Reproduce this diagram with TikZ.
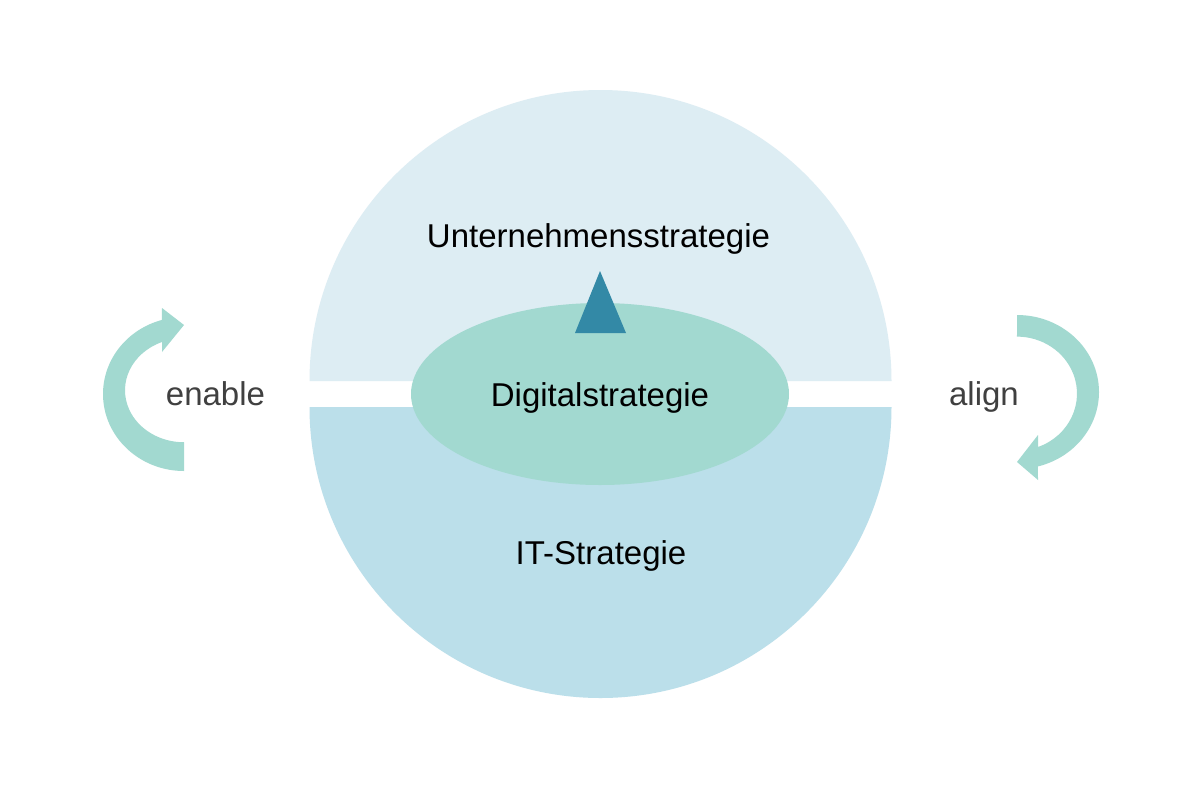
\documentclass[tikz,border=0pt]{standalone}
\usepackage{fontspec}
\setmainfont{Liberation Sans}
\usetikzlibrary{shapes.geometric}
\definecolor{topblue}{HTML}{DDEDF3}
\definecolor{botblue}{HTML}{BBDFEA}
\definecolor{mint}{HTML}{A2D9D0}
\definecolor{tri}{HTML}{3389A6}
\definecolor{lbl}{HTML}{404040}
\tikzset{
  lab/.style={inner sep=0pt, anchor=base, font=\fontsize{33}{38}\selectfont, text=black},
  sidelab/.style={lab, text=lbl},
  arrowfill/.style={fill=mint, draw=none},
}
\begin{document}
\begin{tikzpicture}[x=1pt,y=-1pt]
\useasboundingbox (0,0) rectangle (1200,788);
\fill[white] (0,0) rectangle (1200,788);
% upper half disc
\fill[topblue] (309.5,381) arc[start angle=180,end angle=360,radius=291] -- cycle;
% lower half disc
\fill[botblue] (309.5,407) arc[start angle=180,end angle=0,radius=291] -- cycle;
% ellipse
\node[ellipse, fill=mint, draw=none, inner sep=0pt, minimum width=378pt, minimum height=182pt] (digi) at (600,394) {};
% triangle
\fill[tri] (600,271) -- (626,333) -- (575,333) -- cycle;
% left arrow (enable)
\path[arrowfill] (184,471) arc[start angle=90,end angle=254.2,x radius=81,y radius=77]
  -- (162,308) -- (184,325) -- (162,352) -- (162,342)
  arc[start angle=248.1,end angle=90,x radius=59,y radius=52] -- cycle;
% right arrow (align)
\path[arrowfill] (1017,315) arc[start angle=270,end angle=435.2,x radius=82,y radius=77]
  -- (1038,480) -- (1017,462) -- (1038,435) -- (1038,447)
  arc[start angle=429.5,end angle=270,x radius=60,y radius=57] -- cycle;
% labels
\node[lab] (unt) at (598.5,247.5) {Unternehmensstrategie};
\node[lab] (dig) at (600,406) {Digitalstrategie};
\node[lab] (its) at (601,564) {IT-Strategie};
\node[sidelab] (ena) at (215.5,405.5) {enable};
\node[sidelab] (ali) at (984,405.5) {align};
\end{tikzpicture}
\end{document}
